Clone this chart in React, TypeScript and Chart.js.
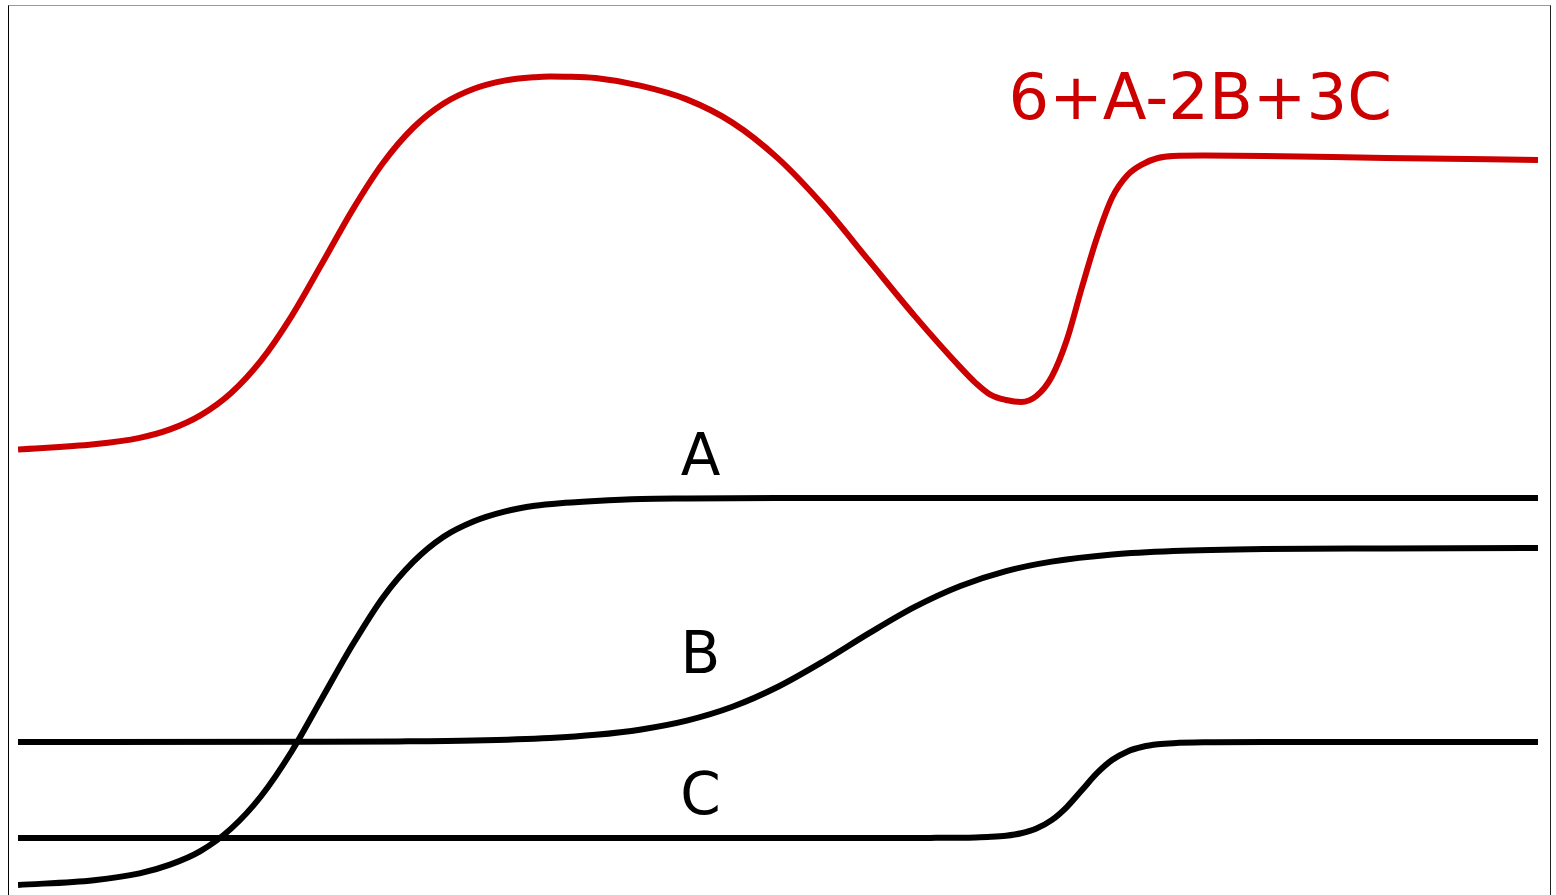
import React, { useEffect, useRef } from "react";
import { Chart, registerables } from "chart.js";

Chart.register(...registerables);

// x positions are sample indices (0..100) along the horizontal axis
const xA = [0, 5, 8, 10, 12, 14, 16, 18, 20, 22, 24, 26, 28, 30, 32, 34, 36, 38, 41, 44, 50, 60, 100];
const valuesA = [0.0, 0.05, 0.12, 0.21, 0.35, 0.58, 0.92, 1.38, 1.93, 2.48, 2.97, 3.34, 3.6, 3.76, 3.86, 3.92, 3.95, 3.97, 3.99, 3.995, 4.0, 4.0, 4.0];

const xB = [0, 20, 25, 30, 35, 38, 41, 44, 47, 50, 53, 56, 59, 62, 65, 68, 72, 76, 82, 90, 100];
const valuesB = [1.478, 1.48, 1.484, 1.494, 1.52, 1.552, 1.608, 1.699, 1.842, 2.049, 2.313, 2.603, 2.874, 3.09, 3.244, 3.342, 3.416, 3.452, 3.473, 3.479, 3.483];

const xC = [0, 55, 60, 62, 63, 64, 65, 66, 67, 68, 69, 70, 71, 72, 73, 74, 75, 76, 78, 82, 100];
const valuesC = [0.486, 0.486, 0.487, 0.489, 0.492, 0.498, 0.51, 0.535, 0.583, 0.67, 0.806, 0.982, 1.158, 1.294, 1.381, 1.429, 1.454, 1.466, 1.475, 1.478, 1.478];

const xSum = [0, 5, 8, 10, 12, 14, 16, 18, 20, 22, 24, 26, 28, 30, 32, 34, 35, 36, 38, 41, 44, 47, 50, 53, 56, 59, 62, 63, 64, 65, 66, 67, 68, 69, 70, 71, 72, 73, 74, 75, 76, 78, 82, 90, 100];
const valuesSum = [4.5, 4.555, 4.622, 4.709, 4.854, 5.083, 5.422, 5.88, 6.423, 6.976, 7.46, 7.827, 8.077, 8.23, 8.314, 8.35, 8.357, 8.355, 8.34, 8.26, 8.12, 7.88, 7.51, 7.02, 6.45, 5.88, 5.35, 5.19, 5.065, 5.013, 4.992, 5.054, 5.251, 5.633, 6.181, 6.698, 7.111, 7.339, 7.452, 7.514, 7.535, 7.54, 7.535, 7.514, 7.494];

const curveLabels = ["A", "B", "C"];
const formulaLabel = "6+A-2B+3C";

const RED = "#cc0000";

export default function App() {
  const canvasRef = useRef<HTMLCanvasElement | null>(null);

  useEffect(() => {
    const canvas = canvasRef.current;
    if (!canvas) return;
    const pts = (xs: number[], ys: number[]) => xs.map((x, i) => ({ x, y: ys[i] }));

    const textPlugin = {
      id: "curveText",
      afterDatasetsDraw(chart: any) {
        const { ctx, scales } = chart;
        const sx = scales.x;
        const sy = scales.y;
        ctx.save();
        ctx.textBaseline = "alphabetic";
        // curve labels
        ctx.fillStyle = "#000";
        ctx.font = '58px "DejaVu Sans", sans-serif';
        ctx.textAlign = "center";
        const labelY = [4.238, 2.191, 0.734];
        curveLabels.forEach((t, i) => {
          ctx.fillText(t, sx.getPixelForValue(44.9), sy.getPixelForValue(labelY[i]));
        });
        // formula
        ctx.fillStyle = RED;
        ctx.font = '64px "DejaVu Sans", sans-serif';
        ctx.textAlign = "left";
        ctx.fillText(formulaLabel, sx.getPixelForValue(65.16), sy.getPixelForValue(7.917));
        ctx.restore();
      },
    };

    const common = {
      borderWidth: 6,
      pointRadius: 0,
      pointHoverRadius: 0,
      fill: false,
      cubicInterpolationMode: "monotone" as const,
    };

    const chart = new Chart(canvas, {
      type: "line",
      data: {
        datasets: [
          { ...common, label: "A", data: pts(xA, valuesA), borderColor: "#000" },
          { ...common, label: "B", data: pts(xB, valuesB), borderColor: "#000" },
          { ...common, label: "C", data: pts(xC, valuesC), borderColor: "#000" },
          { ...common, label: formulaLabel, data: pts(xSum, valuesSum), borderColor: RED },
        ],
      },
      options: {
        animation: false,
        responsive: false,
        maintainAspectRatio: false,
        devicePixelRatio: 1,
        layout: { padding: { left: 18, right: 18, top: 0, bottom: 0 } },
        scales: {
          x: { type: "linear", min: 0, max: 100, display: false },
          y: { type: "linear", min: -0.1034, max: 9.1473, display: false },
        },
        plugins: {
          legend: { display: false },
          tooltip: { enabled: false },
        },
        events: [],
      },
      plugins: [textPlugin],
    });
    return () => chart.destroy();
  }, []);

  return (
    <div
      style={{
        position: "fixed",
        left: 0,
        top: 0,
        width: 1556,
        height: 895,
        overflow: "hidden",
        background: "#fff",
      }}
    >
      <div
        style={{
          position: "absolute",
          left: 8,
          top: 5,
          width: 1541,
          height: 1000,
          borderLeft: "1px solid #000",
          borderRight: "1px solid #222",
          borderTop: "1px solid #999",
        }}
      />
      <canvas
        ref={canvasRef}
        width={1556}
        height={895}
        style={{ position: "absolute", left: 0, top: 0, width: 1556, height: 895 }}
      />
    </div>
  );
}
